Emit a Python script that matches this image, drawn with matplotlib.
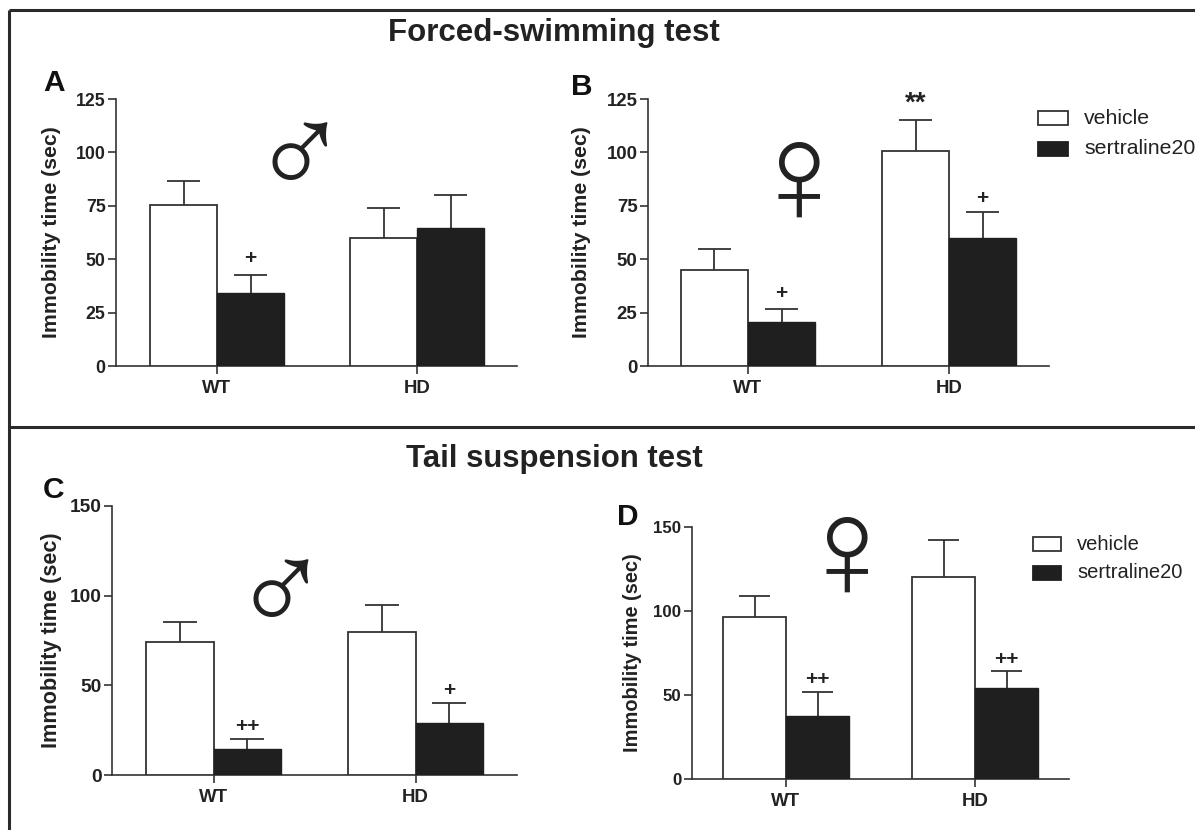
#!/usr/bin/env python3
"""Four-panel immobility bar chart (forced swimming / tail suspension)."""
import matplotlib
matplotlib.use("Agg")
import matplotlib.pyplot as plt
from matplotlib.patches import Rectangle

W, H = 1195, 830
INK = "#333333"
DARK = "#1f1f1f"

GROUPS = ["WT", "HD"]
VEH_A = [75.5, 60]
VEH_A_ERR = [11, 14]
SER_A = [34, 64.5]
SER_A_ERR = [8.5, 15.5]
VEH_B = [45, 100.5]
VEH_B_ERR = [10, 14.5]
SER_B = [20.5, 60]
SER_B_ERR = [6, 12]
VEH_C = [74, 80]
VEH_C_ERR = [11.5, 15]
SER_C = [14.5, 29]
SER_C_ERR = [5.5, 11]
VEH_D = [96.5, 120.5]
VEH_D_ERR = [12.5, 22]
SER_D = [37.5, 54]
SER_D_ERR = [14, 10]

TICKS_125 = [0, 25, 50, 75, 100, 125]
TICKS_150 = [0, 50, 100, 150]

# significance marks: group, bar (0 vehicle, 1 sertraline), height, text, size
MARKS_A = [(0, 1, 50.5, "+", 15)]
MARKS_B = [(0, 1, 34, "+", 15), (1, 1, 78.6, "+", 15), (1, 0, 123, "**", 20)]
MARKS_C = [(0, 1, 27, "++", 15), (1, 1, 47, "+", 15)]
MARKS_D = [(0, 1, 59.5, "++", 15), (1, 1, 71, "++", 15)]


def panel(fig, box, ymax, yticks, veh, veh_err, ser, ser_err, xs, bw, marks,
          tick_fs, label_fs, label_x):
    left, top, right, bottom = box
    ax = fig.add_axes([left / W, 1 - bottom / H, (right - left) / W, (bottom - top) / H])
    ax.set_xlim(left, right)
    ax.set_ylim(0, ymax)
    ax.patch.set_alpha(0)
    cap = bw * 0.25
    for i in range(2):
        ax.bar(xs[i], veh[i], bw, align="edge", color="white", edgecolor=INK, lw=1.3, zorder=3)
        ax.bar(xs[i] + bw, ser[i], bw, align="edge", color=DARK, edgecolor=DARK, lw=1.0, zorder=3)
        for cx, val, err in [(xs[i] + bw / 2, veh[i], veh_err[i]), (xs[i] + bw * 1.5, ser[i], ser_err[i])]:
            ax.vlines(cx, val, val + err, color=INK, lw=1.3, zorder=2)
            ax.hlines(val + err, cx - cap, cx + cap, color=INK, lw=1.3, zorder=2)
    for s in ["top", "right"]:
        ax.spines[s].set_visible(False)
    for s in ["left", "bottom"]:
        ax.spines[s].set_linewidth(1.2)
        ax.spines[s].set_color(INK)
    ax.set_yticks(yticks)
    ax.set_xticks([xs[0] + bw, xs[1] + bw])
    ax.set_xticklabels(GROUPS)
    ax.tick_params(axis="both", width=1.2, length=6, color=INK, pad=1.5)
    ax.tick_params(axis="x", labelsize=13.4, pad=4)
    ax.tick_params(axis="y", labelsize=tick_fs)
    for t in ax.get_xticklabels() + ax.get_yticklabels():
        t.set_fontweight("bold")
        t.set_color("#222222")
    ax.set_ylabel("Immobility time (sec)", fontsize=label_fs, fontweight="bold",
                  color="#222222", va="center")
    ax.yaxis.set_label_coords((label_x - left) / (right - left), 0.5)
    for g, b, y, txt, size in marks:
        ax.text(xs[g] + bw * (b + 0.5), y, txt, ha="center", va="center", fontsize=size,
                fontweight="bold", color="#222222", zorder=4)
    return ax


def legend(fig, x, y1, y2, w, h, tx, fs):
    # legend drawn by hand to sit where the original has it
    for y, fc, ec, label in [(y1, "white", INK, "vehicle"), (y2, DARK, DARK, "sertraline20")]:
        fig.add_artist(Rectangle((x / W, 1 - (y + h / 2) / H), w / W, h / H, facecolor=fc,
                                 edgecolor=ec, lw=1.3, transform=fig.transFigure))
        fig.text(tx / W, 1 - y / H, label, fontsize=fs, va="center", ha="left", color="#222222")


def main():
    plt.rcParams.update({"font.family": ["Liberation Sans", "DejaVu Sans"]})
    fig = plt.figure(figsize=(W / 100, H / 100), dpi=100, facecolor="white")

    panel(fig, (116, 99, 517, 366), 125, TICKS_125, VEH_A, VEH_A_ERR, SER_A, SER_A_ERR,
          [150, 350], 67, MARKS_A, 12.8, 15.3, 52)
    panel(fig, (648, 99, 1049, 366), 125, TICKS_125, VEH_B, VEH_B_ERR, SER_B, SER_B_ERR,
          [681, 882], 67, MARKS_B, 13.4, 15.3, 582)
    panel(fig, (112, 506, 517, 775), 150, TICKS_150, VEH_C, VEH_C_ERR, SER_C, SER_C_ERR,
          [146, 348], 67.5, MARKS_C, 13.8, 15.6, 52)
    panel(fig, (692, 527, 1069, 779), 150, TICKS_150, VEH_D, VEH_D_ERR, SER_D, SER_D_ERR,
          [723, 912], 63, MARKS_D, 12.2, 14.4, 632)

    # frame lines: open on the right and at the bottom
    for xx, yy in [([9, 9], [10, 830]), ([9, W], [10, 10]), ([9, W], [427, 427])]:
        fig.add_artist(plt.Line2D([v / W for v in xx], [1 - v / H for v in yy],
                                  color="#2a2a2a", lw=2.2, solid_capstyle="butt"))

    fig.text(554 / W, 1 - 33.5 / H, "Forced-swimming test", fontsize=22.5, fontweight="bold",
             ha="center", va="center", color="#222222")
    fig.text(554 / W, 1 - 459 / H, "Tail suspension test", fontsize=22.4, fontweight="bold",
             ha="center", va="center", color="#222222")
    for txt, x, y in [("A", 54, 83), ("B", 582, 87), ("C", 53, 490), ("D", 628, 517)]:
        fig.text(x / W, 1 - y / H, txt, fontsize=21.5, fontweight="bold", ha="center",
                 va="center", color="#111111")

    for txt, x, y, fs in [("\u2642", 299, 162, 94), ("\u2640", 799, 185, 104),
                          ("\u2642", 280, 598, 94), ("\u2640", 847, 560, 104)]:
        fig.text(x / W, 1 - y / H, txt, fontsize=fs, ha="center", va="center", color="#222222")

    legend(fig, 1038, 118, 149, 30, 14, 1084, 15.3)
    legend(fig, 1033, 544, 573, 28, 14, 1077, 14.5)

    fig.savefig("out.png", dpi=100, facecolor="white")
    plt.close(fig)


if __name__ == "__main__":
    main()
